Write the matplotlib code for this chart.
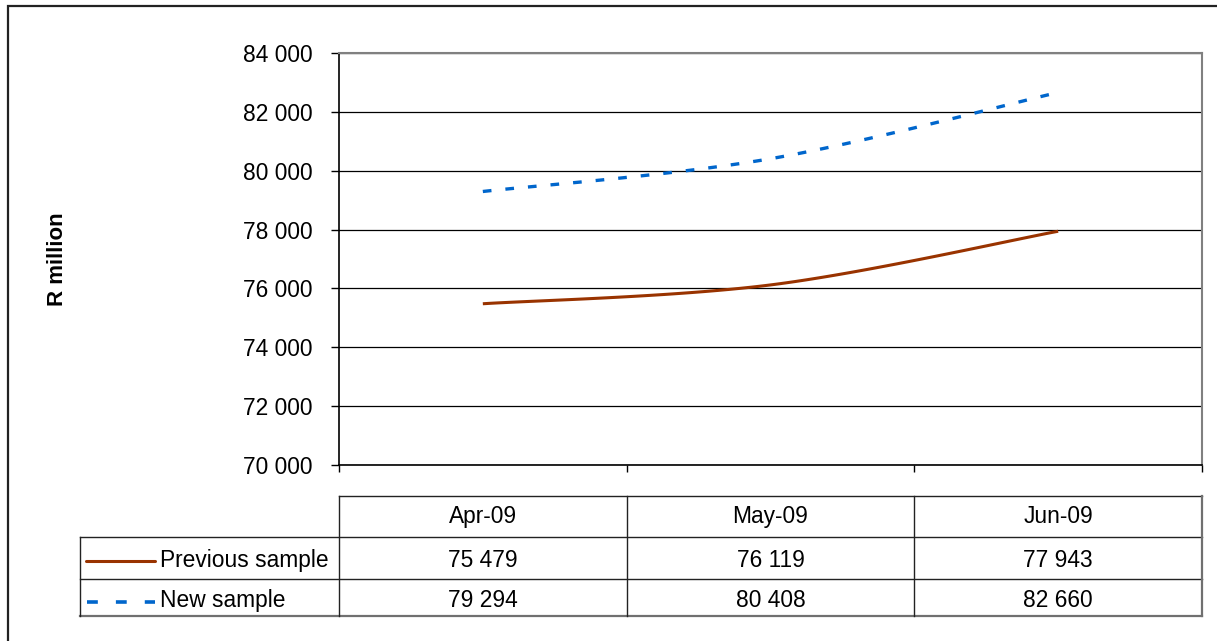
import numpy as np
import matplotlib
matplotlib.use("Agg")
import matplotlib.pyplot as plt
from matplotlib.patches import Rectangle
from matplotlib.ticker import FuncFormatter, MultipleLocator

months = ["Apr-09", "May-09", "Jun-09"]
previous_sample = [75479, 76119, 77943]
new_sample = [79294, 80408, 82660]
series_names = ["Previous sample", "New sample"]

BROWN = "#993300"
BLUE = "#0066CC"
W, H = 1217, 641
FS = 16.4

plt.rcParams["font.family"] = ["Liberation Sans", "DejaVu Sans"]


def fmt_space(v):
    return f"{int(round(v)):,}".replace(",", " ")


def smooth(xs, ys, n=60):
    # Catmull-Rom curve through the points, like Excel's smoothed line
    pts = np.column_stack([xs, ys]).astype(float)
    pts = np.vstack([pts[0], pts, pts[-1]])
    out = []
    for i in range(1, len(pts) - 2):
        p0, p1, p2, p3 = pts[i - 1], pts[i], pts[i + 1], pts[i + 2]
        t = np.linspace(0, 1, n)[:, None]
        seg = 0.5 * ((2 * p1) + (-p0 + p2) * t
                     + (2 * p0 - 5 * p1 + 4 * p2 - p3) * t ** 2
                     + (-p0 + 3 * p1 - 3 * p2 + p3) * t ** 3)
        out.append(seg if i == 1 else seg[1:])
    out = np.vstack(out)
    return out[:, 0], out[:, 1]


def fx(px):
    return px / W


def fy(py):
    return 1 - py / H


fig = plt.figure(figsize=(W / 100, H / 100), dpi=100)

# outer frame
fig.patches.append(Rectangle((fx(8), fy(660)), fx(1240) - fx(8), fy(6) - fy(660),
                             transform=fig.transFigure, fill=False,
                             edgecolor="#222222", linewidth=1.6))

left, right, top, bottom = 339, 1202, 53, 465
ax = fig.add_axes([fx(left), fy(bottom), fx(right) - fx(left), fy(top) - fy(bottom)])

x = np.arange(len(months))
sx, sy = smooth(x, previous_sample)
ax.plot(sx, sy, color=BROWN, linewidth=2.2, solid_capstyle="butt")
sx, sy = smooth(x, new_sample)
ax.plot(sx, sy, color=BLUE, linewidth=2.4, linestyle=(0, (2.6, 4.2)), dash_capstyle="butt")

ax.set_xlim(-0.5, len(months) - 0.5)
ax.set_ylim(70000, 84000)
ax.yaxis.set_major_locator(MultipleLocator(2000))
ax.yaxis.set_major_formatter(FuncFormatter(lambda v, p: fmt_space(v)))
ax.grid(axis="y", color="#000000", linewidth=0.9)
ax.set_axisbelow(True)

ax.set_xticks(np.arange(-0.5, len(months), 1.0))
ax.set_xticklabels([])
ax.tick_params(axis="x", length=5, width=1, color="#000000")
ax.tick_params(axis="y", length=6, width=1, color="#000000", pad=13, labelsize=FS)

for side in ["left", "bottom"]:
    ax.spines[side].set_color("#000000")
    ax.spines[side].set_linewidth(1.2)
for side in ["top", "right"]:
    ax.spines[side].set_color("#808080")
    ax.spines[side].set_linewidth(1.5)

fig.text(fx(58), fy(259), "R million", rotation=90, ha="center", va="center",
         fontsize=16, fontweight="bold")

# data table under the plot
tab_left = 80
col_w = (right - left) / len(months)
row_y = [496, 537, 579, 616]
baselines = [523, 567, 607]
line_kw = dict(transform=fig.transFigure, color="#222222", linewidth=1.0)

fig.add_artist(plt.Line2D([fx(left), fx(right)], [fy(row_y[0])] * 2, **line_kw))
for yy in row_y[1:3]:
    fig.add_artist(plt.Line2D([fx(tab_left), fx(right)], [fy(yy)] * 2, **line_kw))
fig.add_artist(plt.Line2D([fx(tab_left), fx(right)], [fy(row_y[3])] * 2,
                          transform=fig.transFigure, color="#707070", linewidth=1.6))
fig.add_artist(plt.Line2D([fx(tab_left)] * 2, [fy(row_y[1]), fy(row_y[3])], **line_kw))
for i in range(len(months)):
    xx = left + i * col_w
    fig.add_artist(plt.Line2D([fx(xx)] * 2, [fy(row_y[0]), fy(row_y[3])], **line_kw))
fig.add_artist(plt.Line2D([fx(right)] * 2, [fy(row_y[0]), fy(row_y[3])],
                          transform=fig.transFigure, color="#707070", linewidth=1.6))

for i, m in enumerate(months):
    cx = fx(left + (i + 0.5) * col_w)
    fig.text(cx, fy(baselines[0]), m, ha="center", va="baseline", fontsize=FS)
    fig.text(cx, fy(baselines[1]), fmt_space(previous_sample[i]),
             ha="center", va="baseline", fontsize=FS)
    fig.text(cx, fy(baselines[2]), fmt_space(new_sample[i]),
             ha="center", va="baseline", fontsize=FS)

# legend keys inside the table
fig.add_artist(plt.Line2D([fx(86), fx(155)], [fy(561)] * 2, transform=fig.transFigure,
                          color=BROWN, linewidth=2.2, solid_capstyle="round"))
fig.add_artist(plt.Line2D([fx(87), fx(155)], [fy(602)] * 2, transform=fig.transFigure,
                          color=BLUE, linewidth=2.6, linestyle=(0, (3.0, 5.0)),
                          dash_capstyle="butt"))
fig.text(fx(160), fy(baselines[1]), series_names[0], ha="left", va="baseline", fontsize=FS)
fig.text(fx(160), fy(baselines[2]), series_names[1], ha="left", va="baseline", fontsize=FS)

fig.savefig("out.png", dpi=100, facecolor="white")
